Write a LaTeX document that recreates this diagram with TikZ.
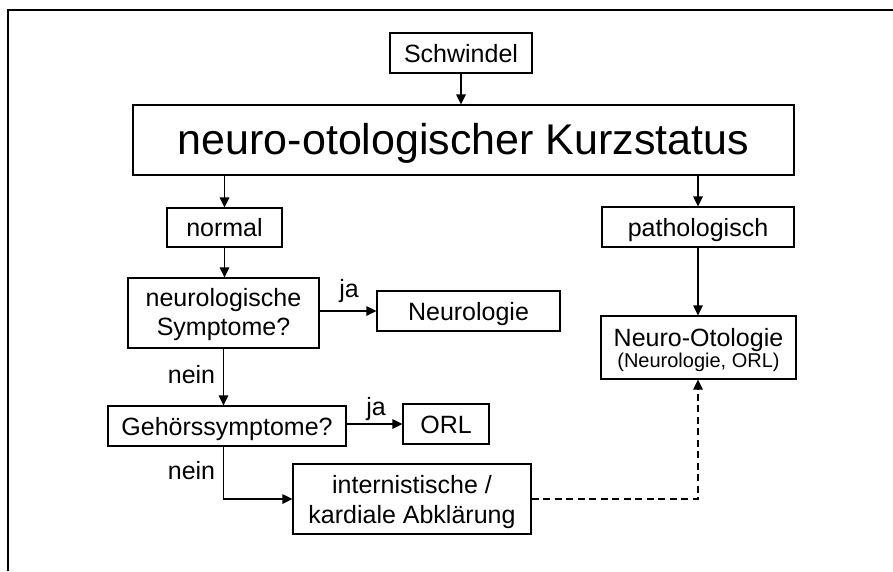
\documentclass[tikz,border=0pt]{standalone}
\usepackage{fontspec}
\setmainfont{Liberation Sans}
\usetikzlibrary{arrows.meta}
\begin{document}
\begin{tikzpicture}[x=1pt,y=-1pt,
  box/.style={draw=black,line width=1.1pt,inner sep=0pt,font=\fontsize{25}{29}\selectfont,text height=18pt,text depth=0pt},
  lbl/.style={inner sep=0pt,anchor=base,font=\fontsize{25}{29}\selectfont},
  arr/.style={line width=1.1pt,-{Triangle[length=10pt,width=9.5pt]}},
  frame/.style={line width=1.3pt}]
\useasboundingbox (0,0) rectangle (893,571);
\draw[frame] (8,571) -- (8,10) -- (893,10);
\node[box,minimum width=142pt,minimum height=40pt] (schw) at (461,53) {Schwindel};
\node[box,minimum width=661pt,minimum height=70pt,font=\fontsize{43}{50}\selectfont,text height=28pt] (main) at (463.5,140) {neuro-otologischer Kurzstatus};
\node[box,minimum width=115pt,minimum height=39pt] (normal) at (224.5,227.5) {normal};
\node[box,minimum width=192pt,minimum height=40pt] (path) at (698,227) {pathologisch};
\node[box,minimum width=195pt,minimum height=63pt,text height=39pt] (noto) at (698.5,347.5) {\begin{tabular}[b]{@{}c@{}}Neuro-Otologie\\[-8pt]{\fontsize{20}{23}\selectfont (Neurologie, ORL)}\end{tabular}};
\node[box,minimum width=191pt,minimum height=70pt,text height=44pt] (nsym) at (223.5,313) {\begin{tabular}[b]{@{}c@{}}neurologische\\Symptome?\end{tabular}};
\node[box,minimum width=183pt,minimum height=40pt] (neuro) at (468.5,311) {Neurologie};
\node[box,minimum width=238pt,minimum height=40pt] (geh) at (227,426) {Gehörssymptome?};
\node[box,minimum width=86pt,minimum height=40pt] (orl) at (446,424) {ORL};
\node[box,minimum width=238pt,minimum height=70pt,text height=48pt] (int) at (412,499) {\begin{tabular}[b]{@{}c@{}}internistische /\\[1pt]kardiale Abklärung\end{tabular}};
\node[lbl] (ja1) at (349,297) {ja};
\node[lbl] (nein1) at (191.5,383) {nein};
\node[lbl] (ja2) at (376,415) {ja};
\node[lbl] (nein2) at (191.5,479) {nein};
\draw[arr] (schw.south) -- (schw.south |- main.north);
\draw[arr] (normal.north |- main.south) -- (normal.north);
\draw[arr] (path.north |- main.south) -- (path.north);
\draw[arr] (normal.south) -- (normal.south |- nsym.north);
\draw[arr] (path.south) -- (path.south |- noto.north);
\draw[arr] (nsym.east |- neuro.west) -- (neuro.west);
\draw[arr] (nsym.south) -- (nsym.south |- geh.north);
\draw[arr] (geh.east |- orl.west) -- (orl.west);
\draw[arr] (nsym.south |- geh.south) |- (int.west);
\draw[arr,dash pattern=on 7pt off 4.5pt] (int.east) -| (path.south |- noto.south);
\end{tikzpicture}
\end{document}
